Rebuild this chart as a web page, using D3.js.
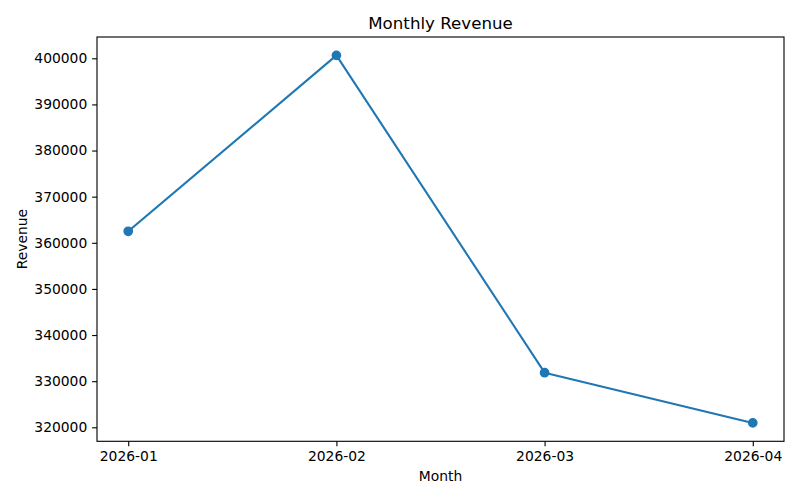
<!DOCTYPE html>
<html>
<head>
<meta charset="utf-8">
<script src="https://cdn.jsdelivr.net/npm/d3@7"></script>
<style>
  body { margin: 0; background: white; }
  svg { display: block; }
  svg text { font-family: 'DejaVu Sans', sans-serif; fill: black; }
</style>
</head>
<body>
<svg id="revenue"></svg>
<script>
// chart data
let months = ['2026-01', '2026-02', '2026-03', '2026-04']
let revenue = [362490, 400630, 331840, 320950]
let yTicks = [320000, 330000, 340000, 350000, 360000, 370000, 380000, 390000, 400000]

// matplotlib-like sizes at 100 dpi
let pt = 100 / 72
let outerWidth = 800
let outerHeight = 500
let margins = { top: 37, bottom: 58.7, left: 97, right: 16 }
let innerWidth = outerWidth - margins.left - margins.right
let innerHeight = outerHeight - margins.top - margins.bottom
let blue = '#1f77b4'

let svg = d3
  .select('svg#revenue')
  .attr('width', outerWidth)
  .attr('height', outerHeight)

let inner = svg
  .append('g')
  .attr('transform', 'translate(' + margins.left + ',' + margins.top + ')')

// x is categorical, 5% margin on each side like matplotlib
let xScale = d3
  .scalePoint()
  .domain(months)
  .range([0, innerWidth])
  .padding(0.15)

// y domain padded by 5% of the data span
let yMin = d3.min(revenue)
let yMax = d3.max(revenue)
let span = yMax - yMin
let yScale = d3
  .scaleLinear()
  .domain([yMin - 0.05 * span, yMax + 0.05 * span])
  .range([innerHeight, 0])

let xAxis = d3
  .axisBottom(xScale)
  .tickSize(3.5 * pt)
  .tickPadding(3.5 * pt)
let yAxis = d3
  .axisLeft(yScale)
  .tickValues(yTicks)
  .tickFormat(d3.format('d'))
  .tickSize(3.5 * pt)
  .tickPadding(3.5 * pt)

let gx = inner
  .append('g')
  .attr('class', 'x axis')
  .attr('transform', 'translate(0,' + innerHeight + ')')
  .call(xAxis)

let gy = inner
  .append('g')
  .attr('class', 'y axis')
  .call(yAxis)

for (let g of [gx, gy]) {
  g.select('.domain').remove()
  g.selectAll('.tick line').attr('stroke', 'black').attr('stroke-width', 0.8 * pt)
  g.selectAll('.tick text')
    .style('font-size', 10 * pt + 'px')
    .style('font-family', "'DejaVu Sans', sans-serif")
    .attr('fill', 'black')
}

// line and markers
let line = d3
  .line()
  .x((d, i) => xScale(months[i]))
  .y(d => yScale(d))

inner
  .append('path')
  .datum(revenue)
  .attr('d', line)
  .attr('fill', 'none')
  .attr('stroke', blue)
  .attr('stroke-width', 1.5 * pt)
  .attr('stroke-linejoin', 'round')
  .attr('stroke-linecap', 'square')

// marker: 6pt wide plus a 1pt edge
inner
  .selectAll('circle')
  .data(revenue)
  .join('circle')
  .attr('cx', (d, i) => xScale(months[i]))
  .attr('cy', d => yScale(d))
  .attr('r', 3 * pt)
  .attr('fill', blue)
  .attr('stroke', blue)
  .attr('stroke-width', 1 * pt)

// frame around plotting region
inner
  .append('rect')
  .attr('width', innerWidth)
  .attr('height', innerHeight)
  .attr('fill', 'none')
  .attr('stroke', 'black')
  .attr('stroke-width', 0.8 * pt)

// title and axis labels
svg
  .append('text')
  .attr('x', margins.left + innerWidth / 2)
  .attr('y', margins.top - 8.5)
  .attr('text-anchor', 'middle')
  .style('font-size', 12 * pt + 'px')
  .text('Monthly Revenue')

svg
  .append('text')
  .attr('x', margins.left + innerWidth / 2)
  .attr('y', 481)
  .attr('text-anchor', 'middle')
  .style('font-size', 10 * pt + 'px')
  .text('Month')

svg
  .append('text')
  .attr('text-anchor', 'middle')
  .attr('transform', `translate(27, ${margins.top + innerHeight / 2}) rotate(-90)`)
  .style('font-size', 10 * pt + 'px')
  .text('Revenue')
</script>
</body>
</html>
